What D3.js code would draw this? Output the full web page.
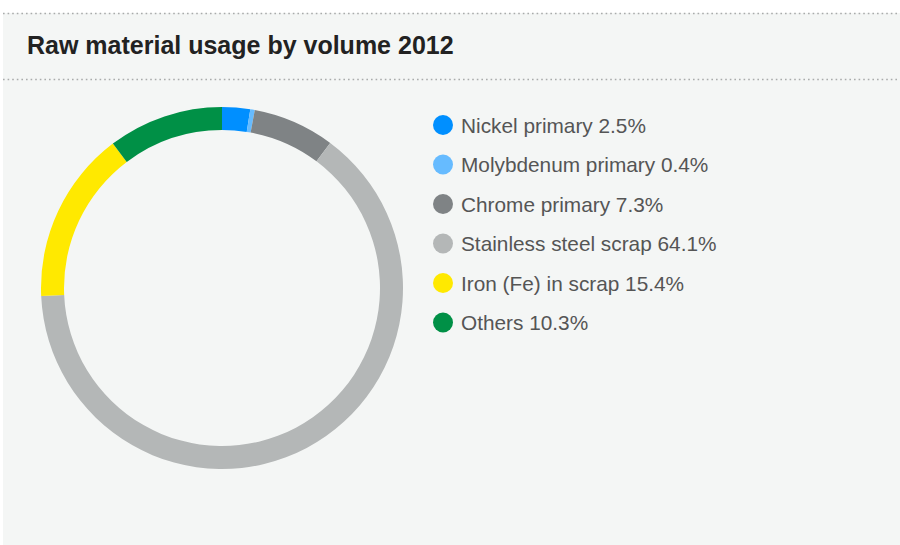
<!DOCTYPE html>
<html>
<head>
<meta charset="utf-8">
<script src="https://cdn.jsdelivr.net/npm/d3@7"></script>
<style>
  html, body { margin: 0; padding: 0; background: #ffffff; }
  svg { display: block; }
</style>
</head>
<body>
<svg id="chart" width="900" height="545"></svg>
<script>
// Raw material shares (percent of total volume), 2012
const categories = ["Nickel primary", "Molybdenum primary", "Chrome primary",
                    "Stainless steel scrap", "Iron (Fe) in scrap", "Others"];
const shares = [2.5, 0.4, 7.3, 64.1, 15.4, 10.3];
const colors = ["#008fff", "#66bbff", "#7f8385", "#b4b7b7", "#ffe900", "#009046"];
const title = "Raw material usage by volume 2012";

const svg = d3.select("#chart");
const W = 900, H = 545;

// panel background
svg.append("rect")
  .attr("x", 3).attr("y", 13).attr("width", W - 3).attr("height", H - 13)
  .attr("fill", "#f4f6f5");

// dotted rules above and below the title
[13.5, 79.5].forEach(y => {
  svg.append("line")
    .attr("x1", 3).attr("x2", W).attr("y1", y).attr("y2", y)
    .attr("stroke", "#a9abab").attr("stroke-width", 1.6)
    .attr("stroke-dasharray", "1.6,3");
});

svg.append("text")
  .attr("x", 27).attr("y", 54)
  .attr("font-family", "Liberation Sans, Arial, sans-serif")
  .attr("font-weight", "bold")
  .attr("font-size", 25)
  .attr("fill", "#222")
  .text(title);

// donut
const data = categories.map((c, i) => ({ name: c, value: shares[i], color: colors[i] }));
const pie = d3.pie().value(d => d.value).sort(null);
const arc = d3.arc().innerRadius(158).outerRadius(181);

const g = svg.append("g").attr("transform", "translate(222,288)");
g.selectAll("path")
  .data(pie(data))
  .join("path")
  .attr("d", arc)
  .attr("fill", d => d.data.color);

// legend
const legend = svg.append("g").attr("transform", "translate(443,125)");
const rows = legend.selectAll("g")
  .data(data)
  .join("g")
  .attr("transform", (d, i) => `translate(0,${i * 39.5})`);
rows.append("circle").attr("r", 10).attr("fill", d => d.color);
rows.append("text")
  .attr("x", 18).attr("y", 7.5)
  .attr("font-family", "Liberation Sans, Arial, sans-serif")
  .attr("font-size", 20.8)
  .attr("fill", "#555")
  .text(d => `${d.name} ${d.value.toFixed(1)}%`);
</script>
</body>
</html>
